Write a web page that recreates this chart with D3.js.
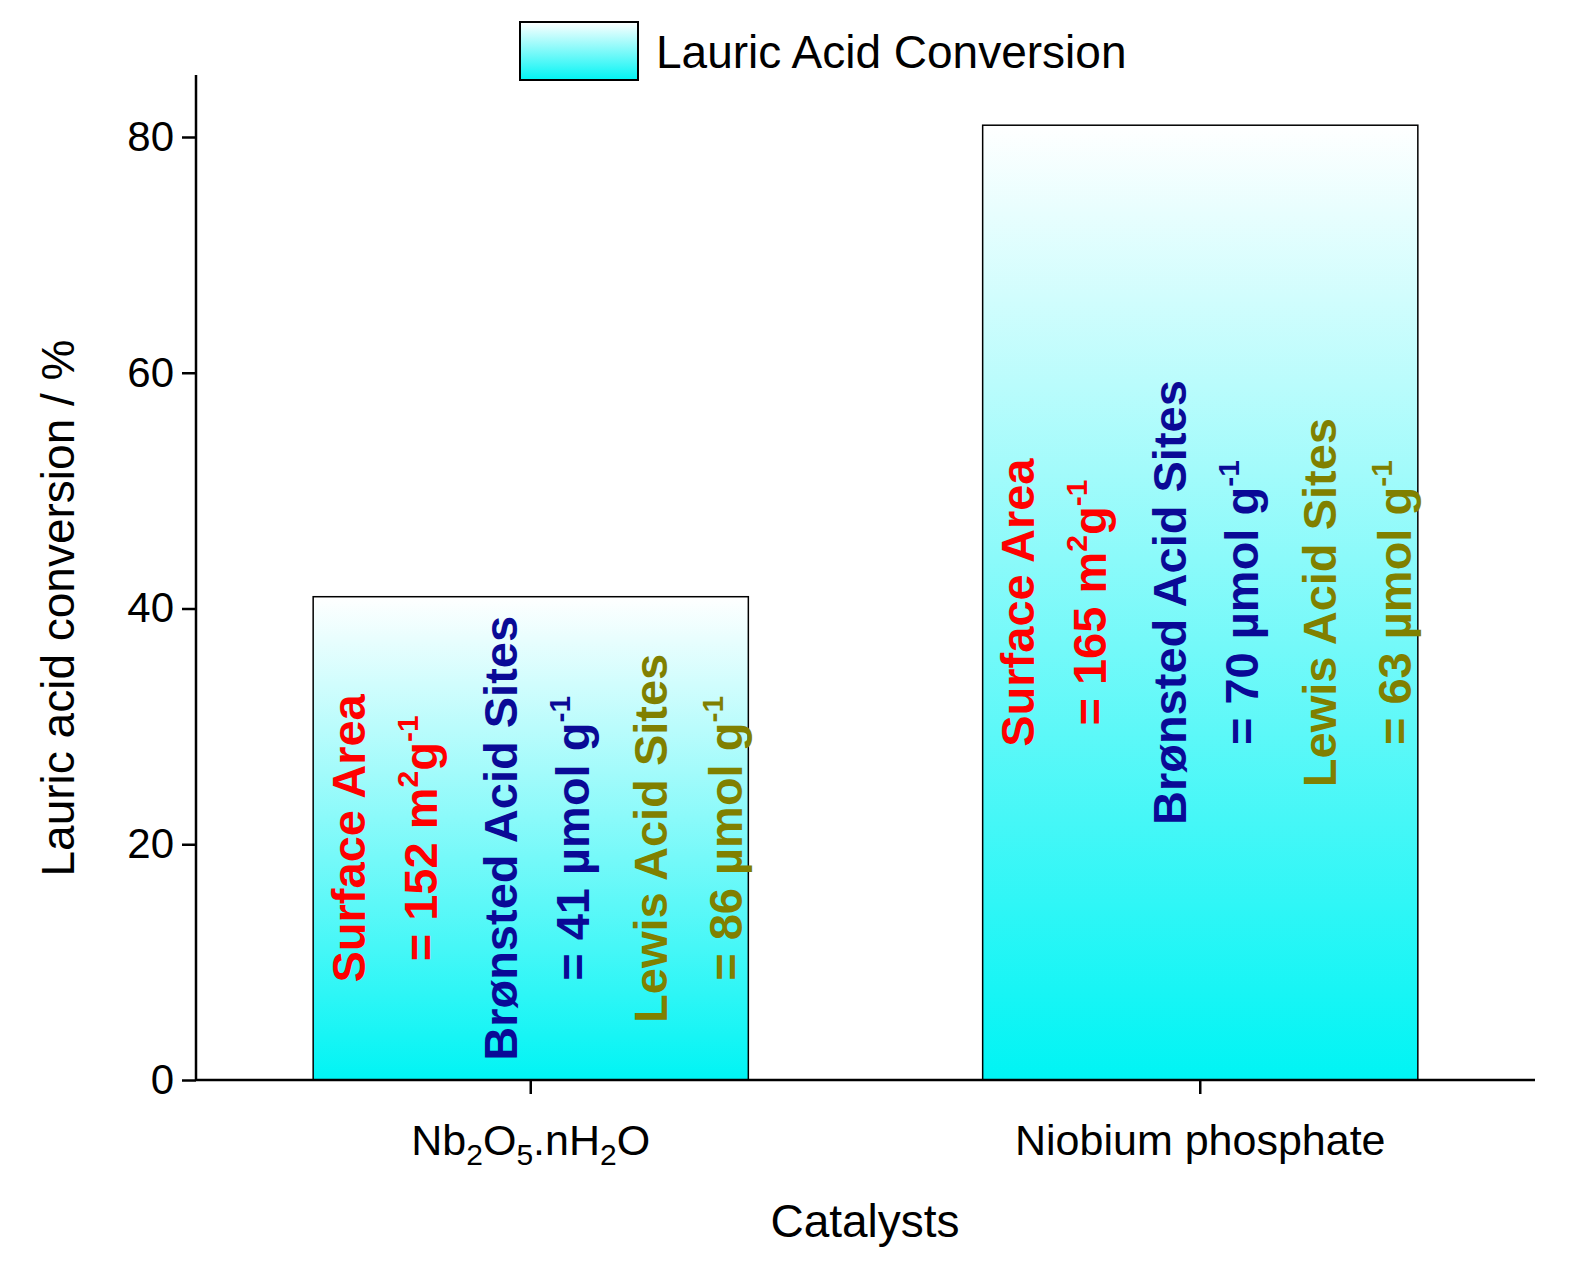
<!DOCTYPE html>
<html><head><meta charset="utf-8">
<script src="https://cdn.jsdelivr.net/npm/d3@7"></script>
<style>body{margin:0;background:#fff}text{font-family:Arial,"Liberation Sans",sans-serif}</style>
</head><body>
<script>
// data
const categories = ["Nb2O5.nH2O", "Niobium phosphate"]
const conversion = [41, 81]
const surfaceArea = [152, 165]
const bronsted = [41, 70]
const lewis = [86, 63]
const yTicks = [0, 20, 40, 60, 80]
const labelCenter = [20.5, 40.5] // value at which the rotated notes are centred

const W = 1588, H = 1284
const svg = d3.select("body").append("svg").attr("width", W).attr("height", H)
const x = d3.scaleBand().domain(categories).range([196, 1535]).paddingInner(0.35).paddingOuter(0.175)
const y = d3.scaleLinear().domain([0, 80]).range([1080, 137])

const defs = svg.append("defs")
const grad = defs.append("linearGradient").attr("id", "g").attr("x1", 0).attr("y1", 0).attr("x2", 0).attr("y2", 1)
grad.append("stop").attr("offset", "0%").attr("stop-color", "#ffffff")
grad.append("stop").attr("offset", "100%").attr("stop-color", "#00f4f4")

svg.selectAll(".bar").data(categories).join("rect")
  .attr("x", d => x(d)).attr("width", x.bandwidth())
  .attr("y", (d, i) => y(conversion[i])).attr("height", (d, i) => y(0) - y(conversion[i]))
  .attr("fill", "url(#g)").attr("stroke", "#000").attr("stroke-width", 1.5)

// axes
const yAxis = svg.append("g").attr("transform", "translate(196,0)")
  .call(d3.axisLeft(y).tickValues(yTicks).tickSize(14).tickPadding(8))
yAxis.select(".domain").attr("d", "M0,75V1080")
const xAxis = svg.append("g").attr("transform", "translate(0,1080)")
  .call(d3.axisBottom(x).tickSize(14).tickPadding(12).tickFormat(""))
xAxis.select(".domain").attr("d", "M196,0H1535")
svg.selectAll(".tick line, .domain").attr("stroke", "#000").attr("stroke-width", 2.5)
yAxis.selectAll("text").attr("font-size", 42).attr("fill", "#000")

// x tick labels
const lbl1 = svg.append("text").attr("x", x(categories[0]) + x.bandwidth() / 2).attr("y", 1155)
  .attr("text-anchor", "middle").attr("font-size", 43)
;[["Nb", 0], ["2", 1], ["O", 0], ["5", 1], [".nH", 0], ["2", 1], ["O", 0]].forEach(([t, s], i, a) => {
  const ts = lbl1.append("tspan").text(t)
  if (s) ts.attr("font-size", 30).attr("dy", 10)
  else if (i > 0 && a[i - 1][1]) ts.attr("dy", -10)
})
svg.append("text").attr("x", x(categories[1]) + x.bandwidth() / 2).attr("y", 1155)
  .attr("text-anchor", "middle").attr("font-size", 43).text(categories[1])

svg.append("text").attr("x", 865).attr("y", 1237).attr("text-anchor", "middle").attr("font-size", 46).text("Catalysts")
svg.append("text").attr("transform", "translate(74,608) rotate(-90)").attr("text-anchor", "middle")
  .attr("font-size", 46).text("Lauric acid conversion / %")

// legend
svg.append("rect").attr("x", 520).attr("y", 22).attr("width", 118).attr("height", 58)
  .attr("fill", "url(#g)").attr("stroke", "#000").attr("stroke-width", 2)
svg.append("text").attr("x", 656).attr("y", 68).attr("font-size", 46).text("Lauric Acid Conversion")

// rotated annotations
const offs = [35, 107, 187, 259, 337, 412]
categories.forEach((c, i) => {
  const cy = y(labelCenter[i])
  const cols = [
    {c: "#ff0000", parts: [["Surface Area"]]},
    {c: "#ff0000", parts: [["= " + surfaceArea[i] + " m"], ["2", "s"], ["g"], ["-1", "s"]]},
    {c: "#0a0a96", parts: [["Brønsted Acid Sites"]]},
    {c: "#0a0a96", parts: [["= " + bronsted[i] + " µmol g"], ["-1", "s"]]},
    {c: "#808000", parts: [["Lewis Acid Sites"]]},
    {c: "#808000", parts: [["= " + lewis[i] + " µmol g"], ["-1", "s"]]}
  ]
  cols.forEach((col, j) => {
    const t = svg.append("text").attr("transform", `translate(${x(c) + offs[j]},${cy}) rotate(-90)`)
      .attr("text-anchor", "middle").attr("font-size", 47).attr("font-weight", "bold")
      .attr("fill", col.c).attr("dy", "0.35em")
    col.parts.forEach((p, k) => {
      const ts = t.append("tspan").text(p[0])
      if (p[1]) ts.attr("font-size", 30).attr("dy", -19)
      else if (k > 0 && col.parts[k - 1][1]) ts.attr("dy", 19)
    })
  })
})
</script>
</body></html>
